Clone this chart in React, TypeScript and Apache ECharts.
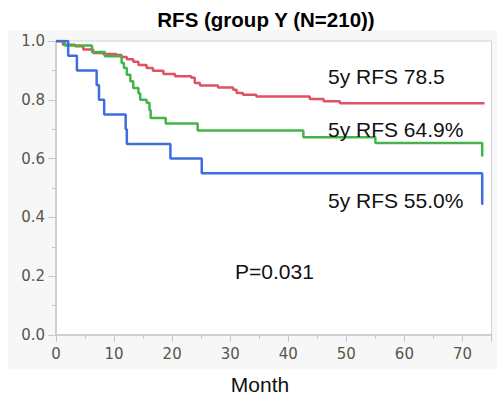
import React, { useEffect, useRef } from "react";
import * as echarts from "echarts";

const xTicks = [0, 10, 20, 30, 40, 50, 60, 70];
const yTicks = [0.0, 0.2, 0.4, 0.6, 0.8, 1.0];

// [month, survival] at each drop
const redCurve: [number, number][] = [
  [0, 1.0], [1.2, 0.987], [3.3, 0.982], [4.7, 0.971], [6.4, 0.959], [8.1, 0.956],
  [10.4, 0.952], [11.3, 0.946], [12.2, 0.938], [13.3, 0.929], [14.2, 0.918],
  [15.6, 0.908], [16.7, 0.899], [18.5, 0.888], [20.5, 0.88], [23.3, 0.875],
  [23.9, 0.857], [24.8, 0.849], [27.9, 0.842], [30.5, 0.834], [31.1, 0.823],
  [32.2, 0.817], [34.5, 0.811], [43.7, 0.803], [46.1, 0.795], [48.9, 0.788],
  [73.8, 0.788],
];
const greenCurve: [number, number][] = [
  [0, 1.0], [1.5, 0.985], [6.2, 0.963], [8.4, 0.948], [11.3, 0.925], [11.7, 0.908],
  [12.2, 0.885], [12.8, 0.863], [13.3, 0.84], [14.2, 0.822], [14.5, 0.8],
  [15.6, 0.79], [16.1, 0.765], [16.3, 0.738], [18.9, 0.719], [24.4, 0.696],
  [42.6, 0.673], [55.0, 0.653], [73.4, 0.607],
];
const blueCurve: [number, number][] = [
  [0, 1.0], [2.1, 0.95], [3.6, 0.9], [7.0, 0.85], [7.4, 0.8], [8.3, 0.75],
  [12.0, 0.7], [12.2, 0.65], [19.7, 0.6], [25.1, 0.55], [73.4, 0.443],
];

const title = "RFS (group Y (N=210))";
const xName = "Month";
const notes = ["5y RFS 78.5", "5y RFS 64.9%", "5y RFS 55.0%", "P=0.031"];

export default function App() {
  const ref = useRef<HTMLDivElement>(null);
  useEffect(() => {
    if (!ref.current) return;
    const chart = echarts.init(ref.current, null, { renderer: "svg" });
    const axisColor = "#c8c8c8";
    const labelColor = "#5c5448";
    const noteStyle = { fill: "#111", fontSize: 21, fontFamily: "Liberation Sans, Arial, sans-serif" };
    chart.setOption({
      animation: false,
      graphic: [
        { type: "rect", z: -10, silent: true, shape: { x: 8, y: 30, width: 489, height: 339 }, style: { fill: "#f7f7f7" } },
        { type: "text", x: 266, y: 19, z: 10, style: { text: title, align: "center", verticalAlign: "middle", fill: "#000", fontSize: 20.5, fontWeight: "bold", fontFamily: "Liberation Sans, Arial, sans-serif" } },
        { type: "text", x: 260, y: 384, z: 10, style: { text: xName, align: "center", verticalAlign: "middle", fill: "#111", fontSize: 21, fontFamily: "Liberation Sans, Arial, sans-serif" } },
        { type: "text", x: 328, y: 76, z: 10, style: { ...noteStyle, text: notes[0], verticalAlign: "middle" } },
        { type: "text", x: 328, y: 129.5, z: 10, style: { ...noteStyle, text: notes[1], verticalAlign: "middle" } },
        { type: "text", x: 328, y: 200, z: 10, style: { ...noteStyle, text: notes[2], verticalAlign: "middle" } },
        { type: "text", x: 235, y: 271, z: 10, style: { ...noteStyle, text: notes[3], verticalAlign: "middle" } },
      ],
      grid: { left: 56, right: 5.5, top: 41, bottom: 64, show: true, backgroundColor: "#ffffff", borderColor: "#d2d2d2", borderWidth: 1 },
      xAxis: {
        type: "value", min: 0, max: 75, interval: 10,
        axisLine: { show: true, lineStyle: { color: axisColor, width: 1.5 } },
        axisTick: { show: true, length: 7, lineStyle: { color: axisColor } },
        minorTick: { show: true, splitNumber: 2, length: 4, lineStyle: { color: axisColor } },
        splitLine: { show: false },
        axisLabel: { show: true, showMaxLabel: false, margin: 11, color: labelColor, fontSize: 15, fontFamily: "DejaVu Sans, Verdana, sans-serif",
          formatter: (v: number) => (xTicks.includes(v) ? String(v) : "") },
      },
      yAxis: {
        type: "value", min: 0, max: 1, interval: 0.2,
        axisLine: { show: true, lineStyle: { color: axisColor, width: 1.5 } },
        axisTick: { show: true, length: 8, lineStyle: { color: axisColor } },
        minorTick: { show: true, splitNumber: 2, length: 4, lineStyle: { color: axisColor } },
        splitLine: { show: false },
        axisLabel: { margin: 11, color: labelColor, fontSize: 15, fontFamily: "DejaVu Sans, Verdana, sans-serif",
          formatter: (v: number) => { const t = yTicks.find((y) => Math.abs(y - v) < 1e-6); return t === undefined ? "" : t.toFixed(1); } },
      },
      series: [
        { type: "line", step: "end", data: redCurve, showSymbol: false, lineStyle: { color: "#e0525f", width: 2.5 }, z: 3 },
        { type: "line", step: "end", data: greenCurve, showSymbol: false, lineStyle: { color: "#43b547", width: 2.5 }, z: 4 },
        { type: "line", step: "end", data: blueCurve, showSymbol: false, lineStyle: { color: "#3e6de2", width: 2.5 }, z: 5 },
      ],
    });
    return () => chart.dispose();
  }, []);
  return <div ref={ref} style={{ width: 497, height: 399, position: "absolute", left: 0, top: 0 }} />;
}
